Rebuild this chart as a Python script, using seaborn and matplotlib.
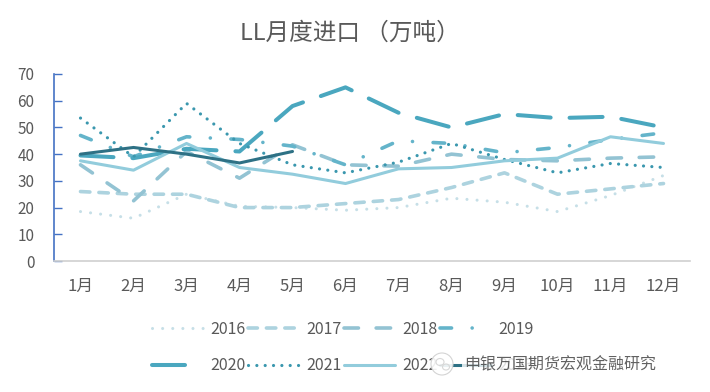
import numpy as np
import pandas as pd
import matplotlib
matplotlib.use("Agg")
import matplotlib.pyplot as plt
from matplotlib.patches import Ellipse
import seaborn as sns

months = ['1月', '2月', '3月', '4月', '5月', '6月', '7月', '8月', '9月', '10月', '11月', '12月']
y2016 = [18.5, 16, 25, 20.5, 20, 19, 20, 23.5, 22, 18.5, 24.5, 32]
y2017 = [26, 25, 25, 20, 20, 21.5, 23, 27.5, 33, 25, 27, 29]
y2018 = [36, 22.5, 41, 31, 43.5, 36, 35.5, 40, 38, 37.5, 38.5, 39]
y2019 = [47, 39, 46.5, 45.5, 43, 36, 45, 44, 40.5, 42.5, 45.5, 48]
y2020 = [39.5, 38.5, 42, 41, 58, 65, 55.5, 50, 55, 53.5, 54, 50]
y2021 = [53.5, 39, 59, 44, 36, 33, 37, 44, 38, 33, 36.5, 35]
y2022 = [37.5, 34, 44, 35, 32.5, 29, 34.5, 35, 37.5, 38.5, 46.5, 44]
y2023 = [40, 42.5, 40, 36.7, 41]
years = ['2016', '2017', '2018', '2019', '2020', '2021', '2022', '2023']
series = [y2016, y2017, y2018, y2019, y2020, y2021, y2022, y2023]

sns.set_theme(style="white")
plt.rcParams['font.family'] = ['Noto Sans CJK SC', 'DejaVu Sans']
plt.rcParams['axes.unicode_minus'] = False

styles = {
    '2016': dict(color='#C6DFE7', lw=2.2, ls=(0, (0.01, 3.3))),
    '2017': dict(color='#ADD3DF', lw=2.6, ls=(0, (2.6, 2.5))),
    '2018': dict(color='#93C3D3', lw=2.6, ls=(0, (4.0, 4.9))),
    '2019': dict(color='#64B4CA', lw=2.6, ls=(0, (3.2, 5.7, 0.01, 5.7))),
    '2020': dict(color='#4AA7BF', lw=2.9, ls=(0, (8.2, 4.7))),
    '2021': dict(color='#3A97AE', lw=2.3, ls=(0, (0.01, 2.6))),
    '2022': dict(color='#92CCDC', lw=2.2, ls='-'),
    '2023': dict(color='#2E7185', lw=2.2, ls='-'),
}

fig = plt.figure(figsize=(7.1, 3.92), dpi=100)
ax = fig.add_axes([54/710, 1-261/392, (690-54)/710, (261-74)/392])

handles = {}
for yr, vals in zip(years, series):
    x = np.arange(1, len(vals) + 1)
    df = pd.DataFrame({'month': x, 'value': vals})
    st = styles[yr]
    sns.lineplot(data=df, x='month', y='value', ax=ax, color=st['color'],
                 linewidth=st['lw'], linestyle=st['ls'],
                 dash_capstyle='round', solid_capstyle='round', label=yr)
    handles[yr] = ax.get_lines()[-1]
if ax.get_legend():
    ax.get_legend().remove()

ax.set_xlim(0.5, 12.5)
ax.set_ylim(0, 70)
ax.set_yticks(range(0, 71, 10))
ax.set_xticks(range(1, 13))
ax.set_xticklabels(months)
ax.set_xlabel('')
ax.set_ylabel('')
txtc = '#595959'
ax.tick_params(axis='y', direction='in', length=6, width=1, color='#4472C4',
               labelsize=11, labelcolor=txtc, pad=14, left=True)
ax.tick_params(axis='x', length=0, labelsize=12, labelcolor=txtc, pad=12)
for s in ['top', 'right']:
    ax.spines[s].set_visible(False)
ax.spines['left'].set_color('#4472C4')
ax.spines['left'].set_linewidth(1.2)
ax.spines['bottom'].set_color('#D0D0D0')
ax.spines['bottom'].set_linewidth(1.2)

fig.text(350/710, 1-33/392, 'LL月度进口 （万吨）', ha='center', va='center',
         fontsize=17, color=txtc)

order = ['2016', '2020', '2017', '2021', '2018', '2022', '2019', '2023']
leg = fig.legend([handles[k] for k in order], order, ncol=4,
                 loc='upper left', bbox_to_anchor=(152/710, 1-321/392),
                 frameon=False, fontsize=11.5, labelcolor=txtc,
                 handlelength=3.2, handletextpad=0.45, columnspacing=0.15,
                 labelspacing=1.2, borderpad=0, borderaxespad=0)

# watermark
fig.text(464/710, 1-365/392, '申银万国期货宏观金融研究', ha='left', va='center',
         fontsize=11.5, color='#3a3a3a', alpha=0.8, zorder=20,
         bbox=dict(boxstyle='square,pad=0.15', facecolor='white', edgecolor='none', alpha=0.8))
fig.add_artist(Ellipse((442/710, 1-364/392), 22/710, 22/392, transform=fig.transFigure,
                       facecolor='white', edgecolor='#cfcfcf', alpha=0.9, lw=0.8, zorder=20))
fig.add_artist(Ellipse((440/710, 1-362/392), 8/710, 7/392, transform=fig.transFigure,
                       facecolor='none', edgecolor='#d8d8d8', lw=0.8, zorder=21))
fig.add_artist(Ellipse((446/710, 1-367/392), 7/710, 6/392, transform=fig.transFigure,
                       facecolor='none', edgecolor='#d8d8d8', lw=0.8, zorder=21))

fig.savefig('out.png', dpi=100, facecolor='white')
